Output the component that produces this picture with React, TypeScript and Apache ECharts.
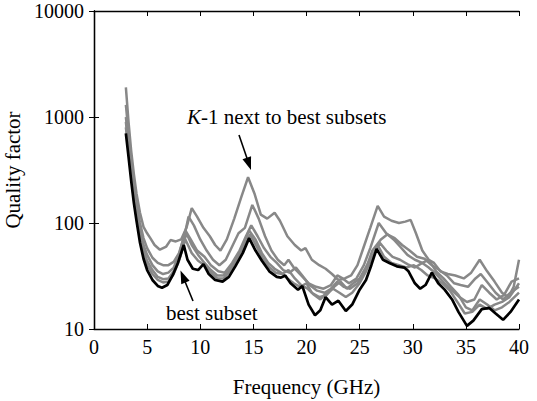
import React, { useEffect, useRef } from 'react';
import * as echarts from 'echarts';

const FONT = 'serif';

const xRange = [0, 40];
const xInterval = 5;
const yRange = [10, 10000];

const bestSubset: [number, number][] = [
  [3, 700], [3.25, 420], [3.5, 250], [3.75, 155], [4, 105], [4.33, 65], [4.66, 46], [5, 36], [5.5, 29], [6, 25.5],
  [6.4, 24.5], [6.9, 26], [7.4, 32],
  [7.9, 42], [8.45, 62], [8.8, 45], [9.3, 37], [9.8, 36], [10.3, 41], [10.8, 33], [11.4, 29], [12.1, 28],
  [12.7, 31], [13.3, 39], [14, 52], [14.6, 72], [15.2, 55], [15.8, 44], [16.5, 35], [17.2, 31], [17.6, 30.5],
  [18, 32], [18.5, 27], [19.2, 23.5], [19.6, 25.5], [20.2, 17], [20.8, 13.5], [21.3, 15], [21.8, 20], [22.4, 17],
  [23, 18.5], [23.7, 14.8], [24.3, 17], [25, 23.5], [25.6, 29], [26.1, 40], [26.6, 57], [27.2, 45], [27.8, 42],
  [28.5, 39], [29.2, 38], [29.6, 35], [30.2, 27], [30.7, 24], [31.2, 26], [31.8, 34], [32.4, 27], [33, 23.5],
  [33.7, 19], [34.3, 14.5], [35.1, 10.7], [35.7, 12], [36.5, 15.4], [37.2, 15.8], [37.8, 14], [38.5, 12.2],
  [39.2, 14.5], [40, 19],
];

const nextSubset1: [number, number][] = [
  [3, 1900], [3.25, 900], [3.5, 480], [3.75, 290], [4, 190], [4.33, 125], [4.66, 92], [5, 80], [5.3, 72],
  [5.7, 62], [6.2, 56], [6.8, 60], [7.2, 69],
  [7.7, 67], [8.2, 70], [8.7, 90], [9.2, 138], [9.7, 115], [10.3, 90], [10.9, 75], [11.4, 62], [11.9, 55],
  [12.5, 70], [13.2, 110], [13.9, 180], [14.5, 270], [15.1, 190], [15.7, 120], [16.3, 110], [17, 125],
  [17.5, 105], [18.2, 75], [18.9, 62], [19.5, 55], [19.9, 58], [20.5, 45], [21.2, 40], [21.8, 37], [22.4, 33],
  [23, 29], [23.6, 30], [24.2, 32], [24.8, 40], [25.4, 60], [26, 90], [26.7, 145], [27.3, 115], [28, 105],
  [28.7, 100], [29.3, 103], [29.8, 107], [30.3, 80], [30.9, 55], [31.5, 45], [32, 42], [32.6, 35], [33.3, 33],
  [34, 32], [34.8, 30], [35.5, 34], [36.3, 45], [37, 35], [37.7, 28], [38.4, 22], [39, 20], [39.5, 25], [40, 45],
];

const nextSubset2: [number, number][] = [
  [3, 1300], [3.25, 700], [3.5, 400], [3.75, 240], [4, 160], [4.33, 100], [4.66, 72], [5, 58], [5.5, 47],
  [6, 42], [6.5, 40], [7, 40], [7.5, 43],
  [8, 52], [8.5, 75], [8.9, 115], [9.4, 95], [10, 70], [10.6, 55], [11.2, 45], [11.8, 40], [12.4, 45], [13, 60],
  [13.6, 80], [14.2, 90], [14.9, 148], [15.5, 110], [16.1, 75], [16.7, 55], [17.3, 45], [17.9, 40], [18.3, 45],
  [18.8, 38], [19.5, 32], [20.2, 27], [20.9, 25], [21.6, 24], [22.3, 26], [22.9, 32], [23.4, 30], [24, 27],
  [24.7, 30], [25.4, 40], [26, 58], [26.8, 100], [27.5, 80], [28.2, 70], [28.8, 60], [29.5, 50], [30.2, 45],
  [30.9, 42], [31.5, 38], [32.2, 33], [33, 27], [33.7, 23], [34.4, 20], [35.1, 18], [35.8, 19], [36.5, 26],
  [37.2, 22], [37.9, 19], [38.6, 21], [39.3, 28], [40, 30],
];

const nextSubset3: [number, number][] = [
  [3, 1000], [3.25, 580], [3.5, 340], [3.75, 200], [4, 135], [4.33, 85], [4.66, 62], [5, 50], [5.5, 40],
  [6, 35], [6.5, 33], [7, 34], [7.5, 38],
  [8, 50], [8.6, 85], [9.1, 70], [9.7, 55], [10.4, 48], [11, 40], [11.7, 35], [12.3, 34], [13, 42], [13.7, 55],
  [14.3, 75], [14.8, 95], [15.4, 75], [16, 58], [16.6, 48], [17.2, 42], [17.8, 36], [18.4, 34], [19, 38],
  [19.6, 32], [20.3, 26], [21, 23], [21.7, 22], [22.3, 24], [22.9, 28], [23.5, 25], [24.1, 24], [24.8, 27],
  [25.5, 35], [26.2, 55], [27, 70], [27.6, 78], [28.3, 72], [29, 62], [29.7, 55], [30.4, 48], [31.1, 46],
  [31.8, 40], [32.5, 36], [33.2, 32], [33.9, 27], [34.5, 26], [35.2, 25], [35.9, 30], [36.4, 33], [37.1, 27],
  [37.8, 22], [38.5, 19], [39.2, 22], [40, 25],
];

const nextSubset4: [number, number][] = [
  [3, 900], [3.25, 520], [3.5, 300], [3.75, 180], [4, 120], [4.33, 77], [4.66, 55], [5, 44], [5.5, 36],
  [6, 31], [6.5, 29.5], [7, 30], [7.5, 35],
  [8.1, 48], [8.7, 80], [9.2, 62], [9.8, 50], [10.4, 42], [11, 36], [11.6, 32], [12.2, 32], [12.9, 38],
  [13.5, 48], [14.2, 68], [14.6, 85], [15.2, 70], [15.8, 52], [16.4, 42], [17, 37], [17.6, 34], [18.2, 30],
  [18.8, 27], [19.4, 25], [20, 27], [20.5, 22], [21.2, 20], [21.9, 21], [22.6, 25], [23.2, 28], [23.8, 24],
  [24.4, 27], [25, 30], [25.7, 40], [26.3, 50], [26.9, 65], [27.5, 55], [28.1, 48], [28.8, 45], [29.5, 41],
  [30.2, 38], [30.9, 42], [31.5, 45], [32.2, 35], [32.9, 30], [33.6, 25], [34.3, 21], [35, 16], [35.6, 15],
  [36.3, 19], [37, 17], [37.7, 15], [38.4, 16], [39.1, 18], [40, 22],
];

const nextSubset5: [number, number][] = [
  [3, 800], [3.25, 480], [3.5, 280], [3.75, 170], [4, 113], [4.33, 72], [4.66, 51], [5, 40], [5.5, 33],
  [6, 29], [6.5, 27.5], [7, 28], [7.5, 33],
  [8, 44], [8.6, 70], [9.2, 52], [9.8, 44], [10.4, 40], [11, 34], [11.6, 30], [12.2, 30], [12.8, 35], [13.5, 45],
  [14.1, 60], [14.7, 78], [15.3, 60], [15.9, 46], [16.5, 38], [17.1, 34], [17.7, 33], [18.3, 36], [18.9, 30],
  [19.5, 26], [20.1, 24], [20.7, 21], [21.3, 19], [21.9, 22], [22.5, 24], [23.1, 22], [23.7, 20], [24.3, 22],
  [25, 27], [25.6, 35], [26.2, 48], [26.7, 62], [27.3, 48], [28, 42], [28.7, 40], [29.4, 38], [30.1, 40],
  [30.8, 36], [31.4, 32], [32.1, 30], [32.8, 27], [33.5, 23], [34.2, 18], [34.9, 14], [35.6, 14.5], [36.3, 17],
  [37, 15.5], [37.7, 17], [38.4, 18], [39.1, 20], [40, 27],
];

const grayCurves = [nextSubset1, nextSubset2, nextSubset3, nextSubset4, nextSubset5];

function arrow(x1: number, y1: number, x2: number, y2: number) {
  const dx = x2 - x1;
  const dy = y2 - y1;
  const len = Math.sqrt(dx * dx + dy * dy);
  const ux = dx / len;
  const uy = dy / len;
  const hl = 13;
  const hw = 4.5;
  const bx = x2 - ux * hl;
  const by = y2 - uy * hl;
  return [
    {
      type: 'line',
      shape: { x1, y1, x2: bx + ux * 2, y2: by + uy * 2 },
      style: { stroke: '#000', lineWidth: 1.6 },
    },
    {
      type: 'polygon',
      shape: {
        points: [
          [x2, y2],
          [bx - uy * hw, by + ux * hw],
          [bx + uy * hw, by - ux * hw],
        ],
      },
      style: { fill: '#000' },
    },
  ];
}

const css = `#qf-chart text, #qf-chart tspan { font-family: "Liberation Serif", "Times New Roman", serif !important; }`;

export default function App() {
  const ref = useRef<HTMLDivElement>(null);
  useEffect(() => {
    if (!ref.current) return;
    const chart = echarts.init(ref.current, null, { renderer: 'svg' });
    const axisLine = { show: true, lineStyle: { color: '#000', width: 1.3 } };
    const axisTick = { show: true, inside: true, length: 5, lineStyle: { color: '#000', width: 1 } };
    const series: any[] = grayCurves.map((d, i) => ({
      type: 'line',
      name: 'next' + (i + 1),
      data: d,
      showSymbol: false,
      smooth: false,
      lineStyle: { color: '#888888', width: 2.5 },
    }));
    series.push({
      type: 'line',
      name: 'best',
      data: bestSubset,
      showSymbol: false,
      smooth: false,
      lineStyle: { color: '#000', width: 2.7 },
    });
    chart.setOption({
      animation: false,
      grid: { left: 94, right: 18, top: 11, bottom: 72, outerBoundsMode: 'none' },
      xAxis: [
        {
          type: 'value',
          min: xRange[0],
          max: xRange[1],
          interval: xInterval,
          axisLine,
          axisTick,
          splitLine: { show: false },
          axisLabel: { fontFamily: FONT, fontSize: 20, color: '#000', margin: 8 },
          name: 'Frequency (GHz)',
          nameLocation: 'middle',
          nameGap: 47,
          nameTextStyle: { fontFamily: FONT, fontSize: 21, color: '#000' },
        },
        {
          type: 'value',
          position: 'top',
          min: xRange[0],
          max: xRange[1],
          interval: xInterval,
          axisLine,
          axisTick,
          splitLine: { show: false },
          axisLabel: { show: false },
        },
      ],
      yAxis: [
        {
          type: 'log',
          min: yRange[0],
          max: yRange[1],
          axisLine,
          axisTick,
          splitLine: { show: false },
          axisLabel: {
            fontFamily: FONT,
            fontSize: 20,
            color: '#000',
            margin: 10,
            formatter: (v: number) => String(Math.round(v)),
          },
          name: 'Quality factor',
          nameLocation: 'middle',
          nameGap: 51,
          nameTextStyle: { fontFamily: FONT, fontSize: 21, color: '#000' },
        },
        {
          type: 'log',
          position: 'right',
          min: yRange[0],
          max: yRange[1],
          axisLine,
          axisTick,
          splitLine: { show: false },
          axisLabel: { show: false },
        },
      ],
      series,
      graphic: [
        { type: 'text', left: 187, top: 106, style: { text: 'K', fontFamily: FONT, fontSize: 21, fontStyle: 'italic', fill: '#000' } },
        { type: 'text', left: 201, top: 106, style: { text: '-1 next to best subsets', fontFamily: FONT, fontSize: 21, fill: '#000' } },
        { type: 'text', left: 166, top: 302, style: { text: 'best subset', fontFamily: FONT, fontSize: 21, fill: '#000' } },
        ...arrow(239, 135, 251, 170),
        ...arrow(193, 301, 180.5, 270.5),
      ],
    });
    return () => chart.dispose();
  }, []);
  return (
    <>
      <style>{css}</style>
      <div
        id="qf-chart"
        ref={ref}
        style={{ position: 'fixed', left: 0, top: 0, width: 537, height: 401, background: '#fff' }}
      />
    </>
  );
}
